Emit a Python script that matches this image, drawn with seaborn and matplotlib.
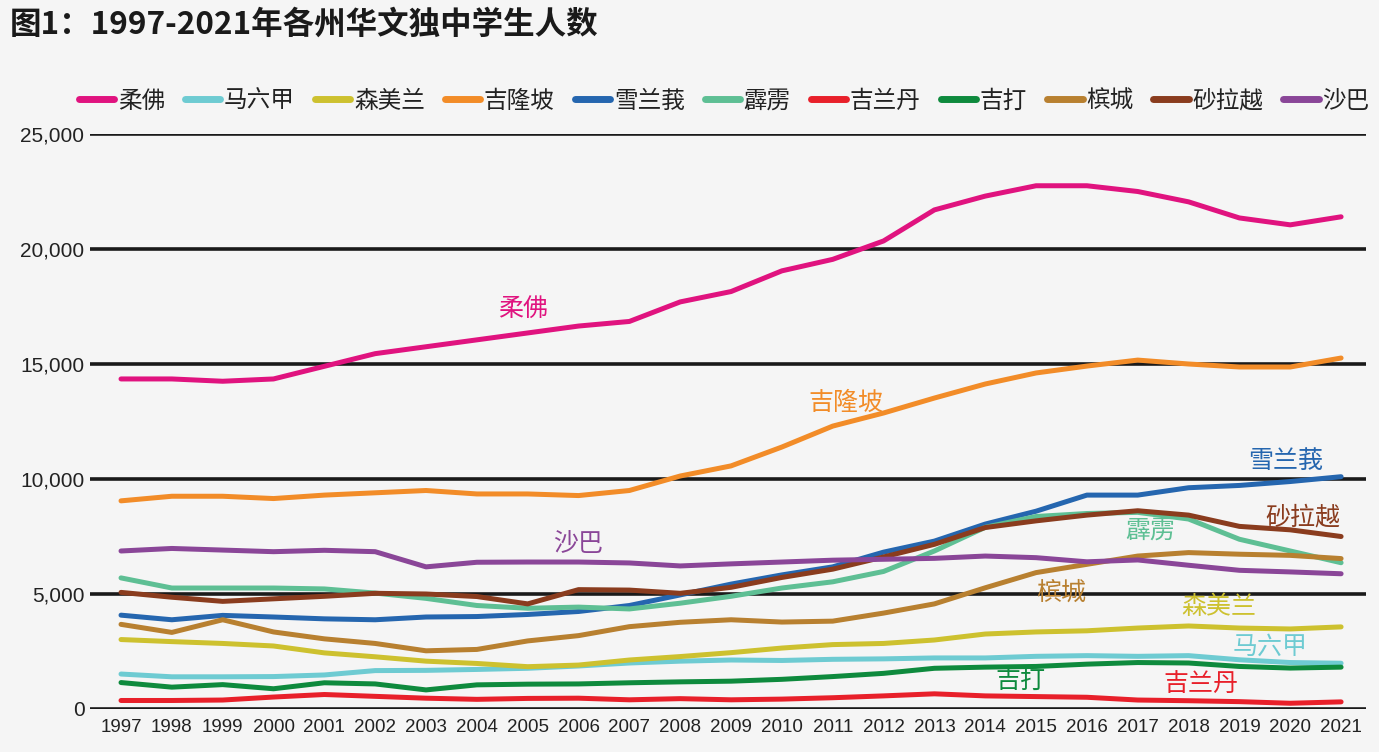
import pandas as pd
import matplotlib.pyplot as plt
import seaborn as sns
from matplotlib.ticker import FuncFormatter

# data
years = list(range(1997, 2022))

johor = [14350, 14350, 14250, 14350, 14900, 15450, 15750, 16050, 16350, 16650, 16850, 17700, 18150,
         19050, 19550, 20350, 21700, 22300, 22750, 22750, 22500, 22050, 21350, 21050, 21400]
melaka = [1520, 1400, 1400, 1410, 1480, 1670, 1680, 1720, 1770, 1870, 2000, 2080, 2130,
          2110, 2160, 2180, 2220, 2220, 2290, 2320, 2290, 2320, 2140, 2020, 1990]
negeri_sembilan = [3020, 2930, 2850, 2740, 2440, 2270, 2080, 1980, 1840, 1910, 2130, 2280, 2450,
                   2650, 2800, 2850, 3000, 3260, 3350, 3400, 3520, 3610, 3520, 3480, 3570]
kuala_lumpur = [9050, 9250, 9250, 9150, 9300, 9400, 9500, 9350, 9350, 9280, 9500, 10130, 10570,
                11390, 12300, 12870, 13520, 14130, 14610, 14910, 15170, 15000, 14870, 14870, 15260]
selangor = [4080, 3880, 4070, 4000, 3920, 3880, 4000, 4020, 4110, 4240, 4500, 4960, 5430,
            5830, 6180, 6820, 7300, 8040, 8600, 9300, 9300, 9620, 9720, 9890, 10100]
perak = [5700, 5260, 5260, 5260, 5220, 5040, 4810, 4500, 4380, 4430, 4350, 4600, 4900,
         5260, 5530, 5980, 6870, 7900, 8370, 8500, 8550, 8260, 7380, 6870, 6360]
kelantan = [370, 370, 390, 520, 630, 550, 470, 420, 460, 470, 400, 450, 400,
            430, 490, 570, 660, 570, 540, 510, 390, 360, 320, 250, 310]
kedah = [1150, 950, 1060, 880, 1140, 1090, 830, 1050, 1080, 1090, 1140, 1180, 1210,
         1290, 1410, 1550, 1770, 1820, 1850, 1950, 2020, 2000, 1850, 1780, 1820]
penang = [3680, 3330, 3880, 3350, 3050, 2850, 2530, 2590, 2960, 3190, 3580, 3770, 3880,
          3780, 3820, 4170, 4570, 5270, 5930, 6290, 6650, 6800, 6730, 6680, 6540]
sarawak = [5070, 4860, 4680, 4790, 4900, 5030, 5000, 4890, 4570, 5190, 5170, 5030, 5290,
           5720, 6080, 6610, 7160, 7890, 8180, 8430, 8620, 8430, 7940, 7790, 7500]
sabah = [6870, 6980, 6910, 6840, 6900, 6840, 6180, 6380, 6390, 6390, 6350, 6220, 6310,
         6390, 6470, 6510, 6550, 6650, 6580, 6400, 6480, 6250, 6030, 5960, 5880]

states = ["柔佛", "马六甲", "森美兰", "吉隆坡", "雪兰莪", "霹雳", "吉兰丹", "吉打", "槟城", "砂拉越", "沙巴"]
series = [johor, melaka, negeri_sembilan, kuala_lumpur, selangor, perak, kelantan, kedah, penang, sarawak, sabah]
colors = ["#E0137F", "#6ECBD2", "#CDC12F", "#F28C28", "#2566AF", "#5EBF94",
          "#E8202A", "#0E8A3D", "#B88030", "#8A3C1E", "#8A4698"]

# inline labels (year, value)
label_pos = {
    "柔佛": (2004.9, 17400), "吉隆坡": (2011.25, 13300), "雪兰莪": (2019.9, 10780),
    "砂拉越": (2020.25, 8350), "沙巴": (2006.0, 7170), "霹雳": (2017.25, 7740),
    "槟城": (2015.5, 5040), "森美兰": (2018.6, 4430), "马六甲": (2019.6, 2700),
    "吉打": (2014.7, 1170), "吉兰丹": (2018.25, 1040),
}

rows = []
for name, vals in zip(states, series):
    for y, v in zip(years, vals):
        rows.append({"year": y, "students": v, "state": name})
df = pd.DataFrame(rows)

sns.set_theme(style="white")
plt.rcParams['font.family'] = ['Noto Sans CJK SC', 'DejaVu Sans']

bg = "#f5f5f5"
fig = plt.figure(figsize=(13.79, 7.52), dpi=100, facecolor=bg)
ax = fig.add_axes([90 / 1379, 1 - 709 / 752, 1276 / 1379, 575 / 752])
ax.set_facecolor(bg)

sns.lineplot(data=df, x="year", y="students", hue="state", hue_order=states,
             palette=dict(zip(states, colors)), linewidth=3.6, ax=ax)

ax.set_xlim(1996.39, 2021.49)
ax.set_ylim(0, 25000)
ax.set_yticks([0, 5000, 10000, 15000, 20000, 25000])
ax.set_xticks(years)
ax.yaxis.set_major_formatter(FuncFormatter(lambda v, p: f"{int(v):,}"))
ax.grid(axis="y", color="#1a1a1a", linewidth=2.6)
ax.grid(axis="x", visible=False)
ax.set_axisbelow(True)
for s in ax.spines.values():
    s.set_visible(False)
ax.tick_params(axis="both", length=0, colors="#222222")
ax.tick_params(axis="y", pad=4)
ax.tick_params(axis="x", pad=7)
for lab in ax.get_yticklabels():
    lab.set_fontfamily(["Liberation Sans Narrow", "Liberation Sans"])
    lab.set_fontsize(15)
for lab in ax.get_xticklabels():
    lab.set_fontfamily(["Liberation Sans Narrow", "Liberation Sans"])
    lab.set_fontsize(13.5)
ax.set_xlabel("")
ax.set_ylabel("")

for name, c in zip(states, colors):
    x, y = label_pos[name]
    ax.text(x, y, name, color=c, fontsize=18, ha="center", va="center")

sns.move_legend(ax, "center", bbox_to_anchor=(0.497, 1.057), ncol=11, frameon=False,
                title=None, fontsize=17, handlelength=1.5, handletextpad=0.15,
                columnspacing=0.85)
for line in ax.get_legend().get_lines():
    line.set_linewidth(5)
for t in ax.get_legend().get_texts():
    t.set_color("#222222")

fig.text(0.007, 0.967, "图1：1997-2021年各州华文独中学生人数", fontsize=22.7,
         fontweight="bold", color="#1a1a1a", ha="left", va="center")

fig.savefig("out.png", dpi=100, facecolor=bg)
